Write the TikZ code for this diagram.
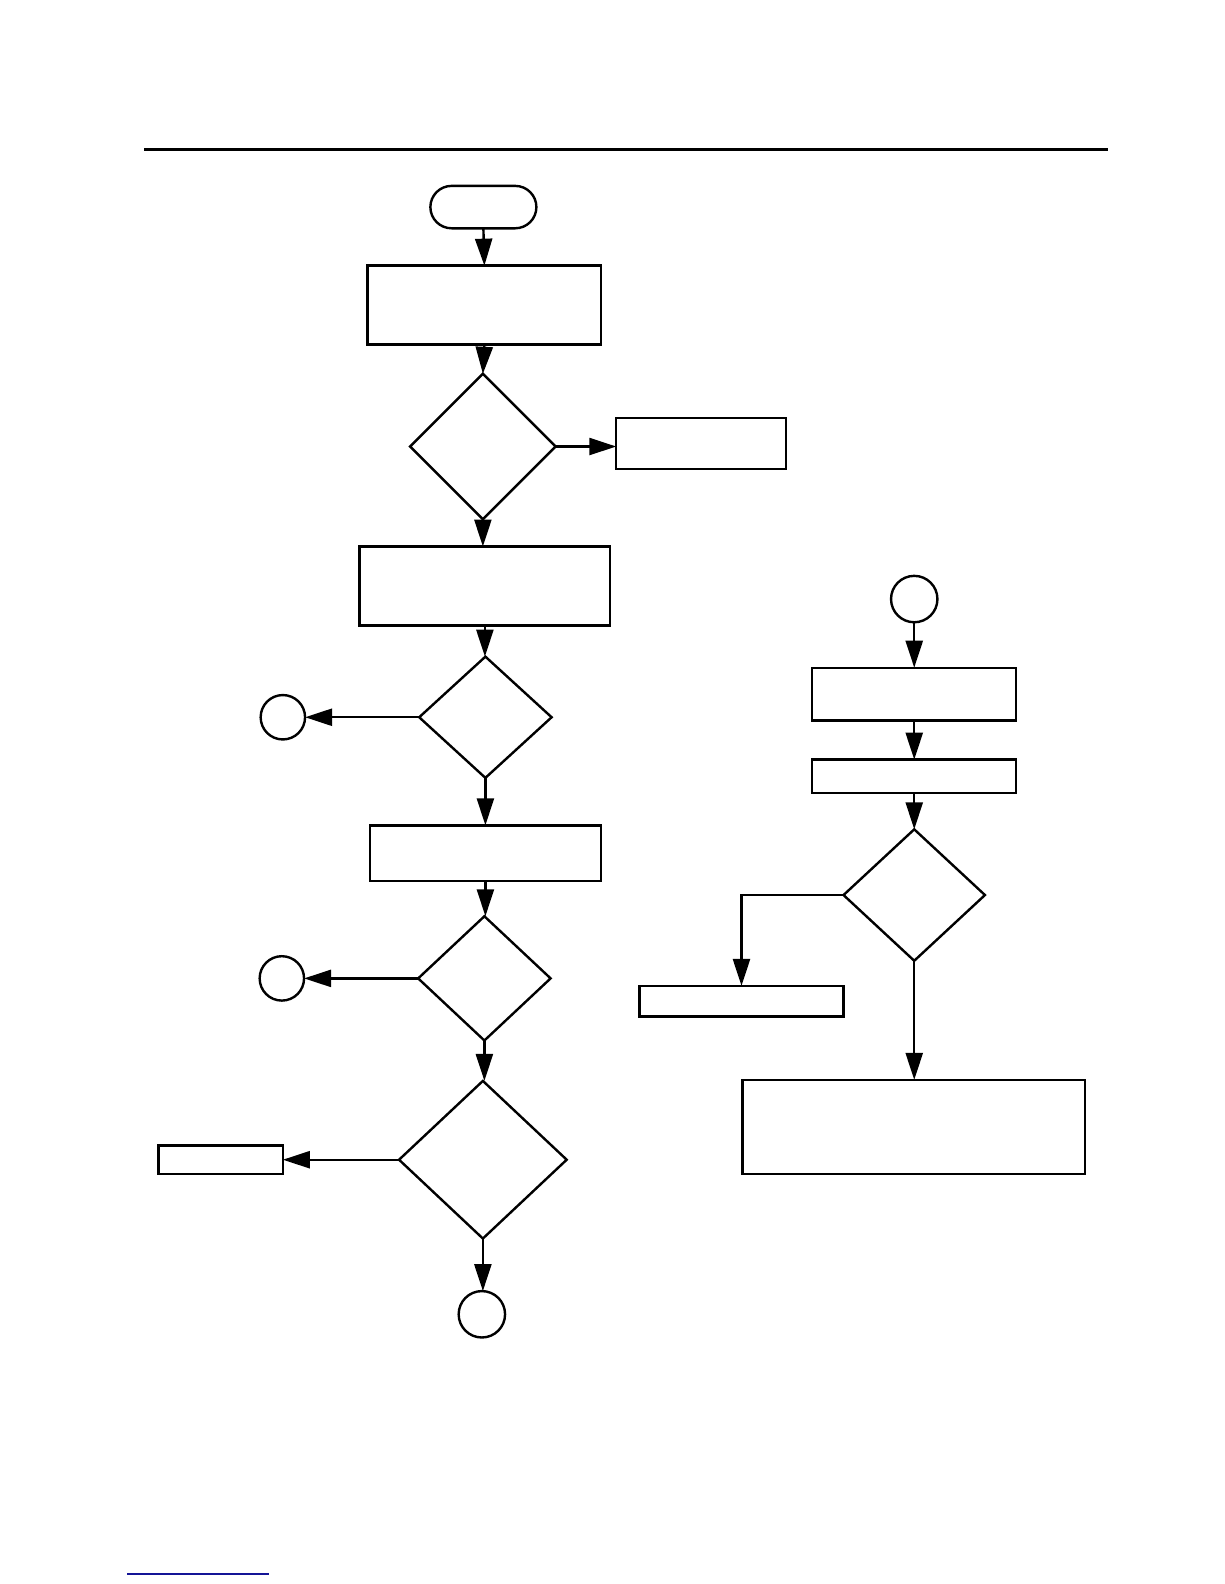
\documentclass[tikz,border=0pt]{standalone}
\usetikzlibrary{shapes.geometric,arrows.meta}
\definecolor{linkblue}{RGB}{20,20,150}
\begin{document}
\begin{tikzpicture}[x=0.505pt,y=-0.505pt,
  every node/.style={draw,line width=1.2pt,inner sep=0pt,outer sep=0pt},
  boxnode/.style={rectangle},
  dia/.style={diamond},
  conn/.style={circle},
  term/.style={rectangle,rounded corners=10.6pt},
  arr/.style={line width=1.2pt,-{Triangle[length=13.5pt,width=8.5pt]}},
  plain/.style={line width=1.2pt}]
\useasboundingbox (0,0) rectangle (1212,1568);
% top rule and bottom link line
\draw[line width=1.4pt] (143,148) -- (1097,148);
\draw[linkblue,line width=1pt] (126,1558) -- (266,1558);
% left column
\node[term,minimum width=53pt,minimum height=21.2pt] (t) at (478.5,205) {};
\node[boxnode,minimum width=116.7pt,minimum height=39.4pt] (b1) at (479.5,302) {};
\node[dia,minimum width=72.7pt,minimum height=72.7pt] (d1) at (478,442) {};
\node[boxnode,minimum width=84.8pt,minimum height=25.3pt] (b2) at (694,439) {};
\node[boxnode,minimum width=125.2pt,minimum height=39.4pt] (b3) at (480,580) {};
\node[dia,minimum width=66.2pt,minimum height=60.6pt] (d2) at (480.5,710) {};
\node[conn,minimum size=22.2pt] (c1) at (280,710) {};
\node[boxnode,minimum width=115.6pt,minimum height=27.8pt] (b4) at (480.5,844.5) {};
\node[dia,minimum width=66.2pt,minimum height=62.1pt] (d3) at (479.5,968.5) {};
\node[conn,minimum size=22.2pt] (c2) at (279,968.5) {};
\node[dia,minimum width=83.8pt,minimum height=78.8pt] (d4) at (478,1148) {};
\node[boxnode,minimum width=62.1pt,minimum height=14.1pt] (b5) at (218.5,1148) {};
\node[conn,minimum size=23.2pt] (c3) at (477,1301) {};
% right column
\node[conn,minimum size=23.2pt] (c4) at (905,593) {};
\node[boxnode,minimum width=102pt,minimum height=26.3pt] (b6) at (905,687) {};
\node[boxnode,minimum width=102pt,minimum height=16.7pt] (b7) at (905,768.5) {};
\node[dia,minimum width=70.7pt,minimum height=65.7pt] (d5) at (905,886) {};
\node[boxnode,minimum width=102pt,minimum height=15.2pt] (b8) at (734,991) {};
\node[boxnode,minimum width=171.2pt,minimum height=47pt] (b9) at (904.5,1115.5) {};
% connectors
\draw[arr] (t.south) -- (b1.north);
\draw[arr] (b1.south) -- (d1.north);
\draw[arr] (d1.east) -- (b2.west |- d1.east);
\draw[arr] (d1.south) -- (d1.south |- b3.north);
\draw[arr] (b3.south) -- (b3.south |- d2.north);
\draw[arr] (d2.west) -- (c1.east |- d2.west);
\draw[arr] (d2.south) -- (d2.south |- b4.north);
\draw[arr] (b4.south) -- (b4.south |- d3.north);
\draw[arr] (d3.west) -- (c2.east |- d3.west);
\draw[arr] (d3.south) -- (d3.south |- d4.north);
\draw[arr] (d4.west) -- (b5.east |- d4.west);
\draw[arr] (d4.south) -- (d4.south |- c3.north);
\draw[arr] (c4.south) -- (b6.north);
\draw[arr] (b6.south) -- (b7.north);
\draw[arr] (b7.south) -- (d5.north);
\draw[arr] (d5.west) -| (b8.north);
\draw[arr] (d5.south) -- (d5.south |- b9.north);
\end{tikzpicture}
\end{document}
